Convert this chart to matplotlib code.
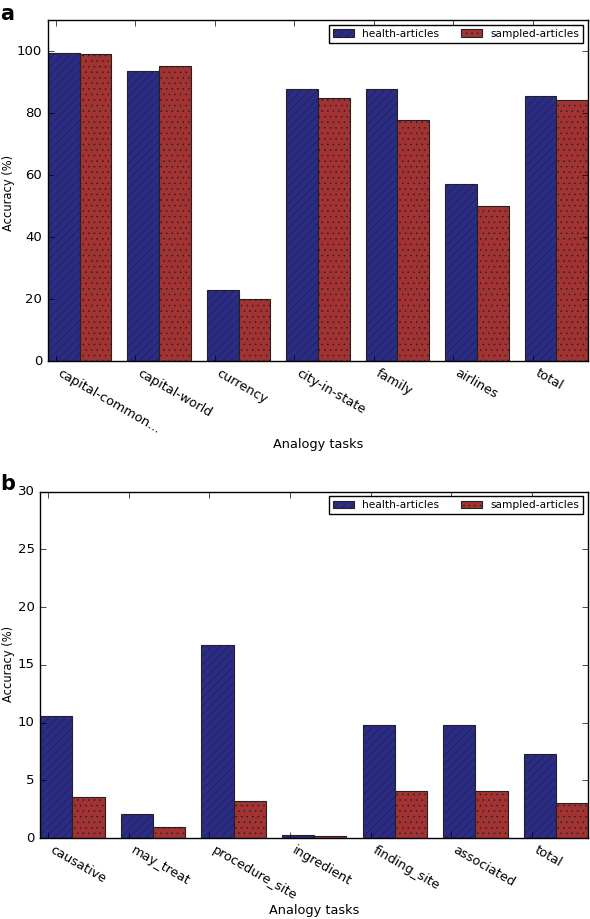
import matplotlib.pyplot as plt
import numpy as np

plt.style.use("classic")
plt.rcParams["figure.facecolor"] = "white"
plt.rcParams["savefig.facecolor"] = "white"
plt.rcParams["font.family"] = "DejaVu Sans"
plt.rcParams["hatch.linewidth"] = 0.4

SERIES = ["health-articles", "sampled-articles"]
COLORS = ["#2b2b88", "#a33333"]
HATCHES = ["////", "..."]

# panel a
tasks_a = ["capital-common...", "capital-world", "currency", "city-in-state",
           "family", "airlines", "total"]
health_a = [99.5, 93.7, 23.1, 87.9, 87.8, 57.1, 85.4]
sampled_a = [99.2, 95.1, 19.9, 85.0, 77.9, 50.0, 84.1]

# panel b
tasks_b = ["causative", "may_treat", "procedure_site", "ingredient",
           "finding_site", "associated", "total"]
health_b = [10.6, 2.1, 16.7, 0.3, 9.8, 9.8, 7.3]
sampled_b = [3.6, 1.0, 3.2, 0.2, 4.1, 4.1, 3.0]

fig = plt.figure(figsize=(5.9, 9.19), dpi=100)
ax1 = fig.add_axes([0.081, 0.607, 0.916, 0.371])
ax2 = fig.add_axes([0.068, 0.088, 0.929, 0.377])

width = 0.4


def draw(ax, tasks, health, sampled, ymax, ystep):
    ind = np.arange(len(tasks))
    for k, vals in enumerate([health, sampled]):
        ax.bar(ind + k * width, vals, width, align="edge", color=COLORS[k],
               edgecolor="#222222", linewidth=0.8, hatch=HATCHES[k],
               label=SERIES[k])
    ax.set_xlim(0, len(tasks) - 1 + 2 * width)
    ax.set_ylim(0, ymax)
    ax.set_yticks(np.arange(0, ymax + 0.1, ystep))
    ax.set_xticks(ind + width / 4)
    ax.set_xticklabels(tasks, rotation=-30, ha="left", fontsize=9.3)
    ax.tick_params(axis="y", labelsize=9.5)
    ax.set_ylabel("Accuracy (%)", fontsize=8.3)
    ax.set_xlabel("Analogy tasks", fontsize=9.3, labelpad=1)
    ax.legend(loc="upper right", ncol=2, fontsize=7.7, handlelength=2.0,
              borderaxespad=0.45, columnspacing=2.0, borderpad=0.35)


draw(ax1, tasks_a, health_a, sampled_a, 110, 20)
ax1.set_yticks([0, 20, 40, 60, 80, 100])
ax1.yaxis.set_label_coords(0.026, 0.79, transform=fig.transFigure)
draw(ax2, tasks_b, health_b, sampled_b, 30, 5)
ax2.yaxis.set_label_coords(0.026, 0.277, transform=fig.transFigure)

fig.text(0.0, 0.985, "a", fontsize=15, fontweight="bold", va="center")
fig.text(0.0, 0.473, "b", fontsize=15, fontweight="bold", va="center")

plt.savefig("out.png", dpi=100)
